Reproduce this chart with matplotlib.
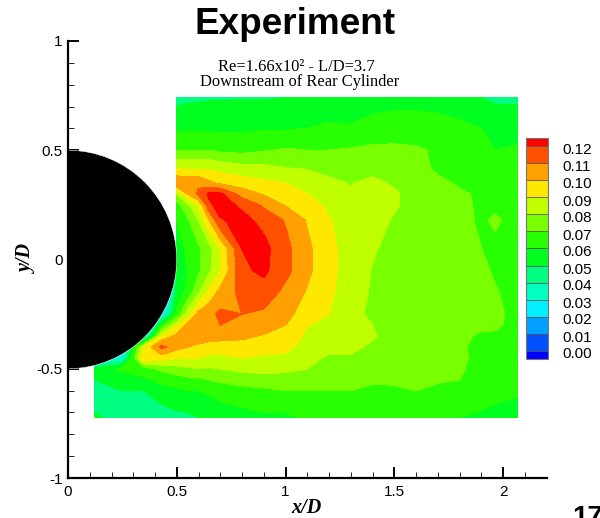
import numpy as np
import matplotlib
matplotlib.use('Agg')
import matplotlib.pyplot as plt
from matplotlib.colors import ListedColormap, BoundaryNorm
from matplotlib.patches import Circle
from matplotlib.transforms import ScaledTranslation

n = float('nan')

x_vals = [0.125, 0.25, 0.35, 0.43, 0.5, 0.55, 0.6, 0.65, 0.7, 0.8, 0.9, 1.0,
          1.1, 1.2, 1.3, 1.4, 1.5, 1.6, 1.7, 1.8, 1.9, 1.965, 2.065]
y_vals = [0.74, 0.68, 0.6, 0.5, 0.42, 0.35, 0.3, 0.25, 0.18, 0.05, -0.05, -0.15,
          -0.25, -0.3, -0.35, -0.4, -0.45, -0.5, -0.55, -0.6, -0.66, -0.72]

# one row per y_vals entry, top to bottom
field = [
    [n, n, n, n, .045, .046, .047, .048, .048, .049, .049, .05, .052, .052, .054, .055, .056, .055, .054, .053, .05, .047, .048],
    [n, n, n, n, .053, .055, .056, .056, .056, .056, .055, .056, .057, .056, .057, .059, .06, .06, .059, .056, .054, .053, .052],
    [n, n, n, n, .058, .058, .058, .058, .058, .058, .059, .059, .06, .062, .061, .064, .065, .066, .066, .064, .06, .058, .057],
    [n, n, n, n, .07, .07, .07, .07, .068, .067, .069, .071, .07, .07, .071, .072, .072, .071, .069, .064, .062, .06, .061],
    [n, n, n, n, .088, .088, .088, .088, .086, .083, .082, .08, .079, .077, .075, .077, .076, .074, .068, .067, .065, .063, .062],
    [n, n, n, n, .11, .108, .108, .102, .098, .095, .092, .09, .087, .082, .0795, .082, .079, .076, .072, .069, .069, .065, .062],
    [n, n, n, n, .08, .10, .112, .122, .122, .105, .099, .094, .09, .085, .081, .084, .081, .077, .073, .071, .069, .066, .063],
    [n, n, n, n, .065, .078, .09, .118, .124, .118, .108, .099, .094, .088, .083, .086, .081, .077, .074, .073, .068, .067, .063],
    [n, n, n, n, .06, .068, .08, .10, .119, .123, .117, .109, .099, .0905, .085, .084, .079, .076, .075, .074, .068, .072, .064],
    [n, n, n, n, .052, .063, .068, .076, .09, .12, .123, .113, .102, .093, .085, .081, .077, .075, .075, .074, .07, .067, .064],
    [.02, .02, .02, -.04, .05, .06, .068, .078, .089, .118, .122, .113, .102, .093, .085, .0795, .076, .075, .075, .075, .073, .068, .065],
    [.02, .02, .02, -.04, .055, .062, .078, .093, .103, .113, .116, .107, .099, .092, .084, .079, .076, .075, .075, .075, .074, .071, .065],
    [.02, .02, .0, .02, .062, .085, .103, .107, .112, .11, .108, .104, .093, .09, .083, .078, .075, .075, .075, .075, .074, .073, .066],
    [.02, .02, .0, .06, .088, .103, .105, .107, .11, .105, .105, .10, .0905, .086, .082, .08, .075, .075, .075, .074, .073, .072, .066],
    [.02, .02, .02, .09, .103, .108, .105, .103, .103, .102, .099, .097, .088, .084, .081, .081, .076, .075, .075, .073, .068, .068, .065],
    [.02, .02, .09, .113, .103, .10, .098, .097, .096, .096, .094, .093, .085, .082, .082, .0785, .075, .075, .075, .0715, .067, .066, .064],
    [.02, .03, .10, .095, .091, .091, .09, .087, .087, .09, .088, .088, .082, .079, .079, .077, .075, .075, .074, .072, .067, .065, .064],
    [.052, .062, .065, .072, .076, .078, .08, .079, .08, .082, .083, .082, .08, .077, .076, .075, .074, .074, .073, .071, .067, .065, .063],
    [.05, .055, .058, .063, .065, .067, .068, .07, .072, .075, .076, .076, .076, .074, .073, .072, .072, .072, .071, .07, .066, .064, .062],
    [.047, .05, .05, .056, .058, .06, .06, .062, .064, .066, .068, .07, .07, .07, .07, .067, .068, .07, .068, .067, .064, .063, .062],
    [.045, .047, .046, .05, .052, .054, .055, .056, .059, .062, .064, .064, .065, .065, .066, .064, .065, .066, .065, .064, .062, .06, .058],
    [.052, .043, .045, .046, .048, .048, .05, .05, .05, .055, .058, .058, .062, .06, .061, .06, .062, .064, .062, .06, .058, .057, .053],
]

levels = [0.0, 0.01, 0.02, 0.03, 0.04, 0.05, 0.06, 0.07, 0.08, 0.09, 0.10, 0.11, 0.12]
level_labels = ['0.00', '0.01', '0.02', '0.03', '0.04', '0.05', '0.06', '0.07',
                '0.08', '0.09', '0.10', '0.11', '0.12']
band_colors = ['#0050ff', '#00a0ff', '#00f0ff', '#00ffc0', '#00ff80', '#00ff20',
               '#28ff00', '#78ff00', '#c0ff00', '#ffe800', '#ffa000', '#ff5000']
under_color = '#0000ff'
over_color = '#ff0000'

W, H = 600, 518
fig = plt.figure(figsize=(W / 100, H / 100), dpi=100)
ax = fig.add_axes([68 / W, (H - 478) / H, 478.5 / W, 437 / H])

cmap = ListedColormap(band_colors)
cmap.set_under(under_color)
cmap.set_over(over_color)
norm = BoundaryNorm(levels, cmap.N)

z = np.ma.masked_invalid(np.array(field))
cf = ax.contourf(x_vals, y_vals, z, levels=levels, cmap=cmap, norm=norm, extend='both')
cf.set_edgecolor('face')
cf.set_linewidth(0.3)

# rear cylinder
ax.add_patch(Circle((0, 0), 0.5, facecolor='black', edgecolor='white', linewidth=0.4, zorder=3))

ax.set_xlim(0, 2.2)
ax.set_ylim(-1, 1)
ax.spines['top'].set_visible(False)
ax.spines['right'].set_visible(False)
ax.spines['left'].set_linewidth(1.6)
ax.spines['bottom'].set_linewidth(1.6)
ax.spines['left'].set_zorder(5)
ax.spines['bottom'].set_zorder(5)

ax.set_xticks([0, 0.5, 1, 1.5, 2])
ax.set_xticklabels(['0', '0.5', '1', '1.5', '2'])
ax.set_yticks([-1, -0.5, 0, 0.5, 1])
ax.set_yticklabels(['-1', '-0.5', '0', '0.5', '1'])
ax.set_xticks(np.arange(0.1, 2.2, 0.1), minor=True)
ax.set_yticks(np.arange(-0.9, 1.0, 0.1), minor=True)
ax.tick_params(which='major', direction='in', length=8, width=1.4, labelsize=11, pad=4)
ax.tick_params(which='minor', direction='in', length=4, width=0.6)
ax.tick_params(axis='x', pad=5)
for lab in ax.get_xticklabels() + ax.get_yticklabels():
    lab.set_family('Liberation Sans')

fig.text(306 / W, 1 - 508 / H, 'x/D', family='Liberation Serif', style='italic', weight='bold',
         fontsize=14.5, ha='center', va='center')
fig.text(27 / W, 1 - 260 / H, 'y/D', family='Liberation Serif', style='italic', weight='bold',
         fontsize=14.5, ha='center', va='center', rotation=90)

fig.text(295 / W, 1 - 25 / H, 'Experiment', family='Liberation Sans', weight='bold',
         fontsize=26.6, ha='center', va='center')
fig.text(296 / W, 1 - 67 / H, 'Re=1.66x10\u00b2 - L/D=3.7', family='Liberation Serif',
         fontsize=11.9, ha='center', va='center')
fig.text(300 / W, 1 - 82.5 / H, 'Downstream of Rear Cylinder', family='Liberation Serif',
         fontsize=11.9, ha='center', va='center')

# contour legend
cax = fig.add_axes([526 / W, (H - 359) / H, 22 / W, 221 / H])
cb = fig.colorbar(cf, cax=cax, ticks=levels, extendrect=True, extendfrac=0.5 / 12, drawedges=True)
cb.ax.set_yticklabels(level_labels)
cb.ax.tick_params(length=0, labelsize=11, pad=10)
label_shift = ScaledTranslation(0, -2.5 / 100, fig.dpi_scale_trans)
for lab in cb.ax.get_yticklabels():
    lab.set_family('Liberation Sans')
    lab.set_transform(lab.get_transform() + label_shift)
cb.outline.set_edgecolor('#777777')
cb.outline.set_linewidth(0.8)
cb.dividers.set_color('#555555')
cb.dividers.set_linewidth(0.6)

# page number cut off by the slide crop
fig.text(572 / W, 1 - 505 / H, '17', family='Liberation Sans', weight='bold', fontsize=20,
         ha='left', va='top')

fig.savefig('out.png', dpi=100)
